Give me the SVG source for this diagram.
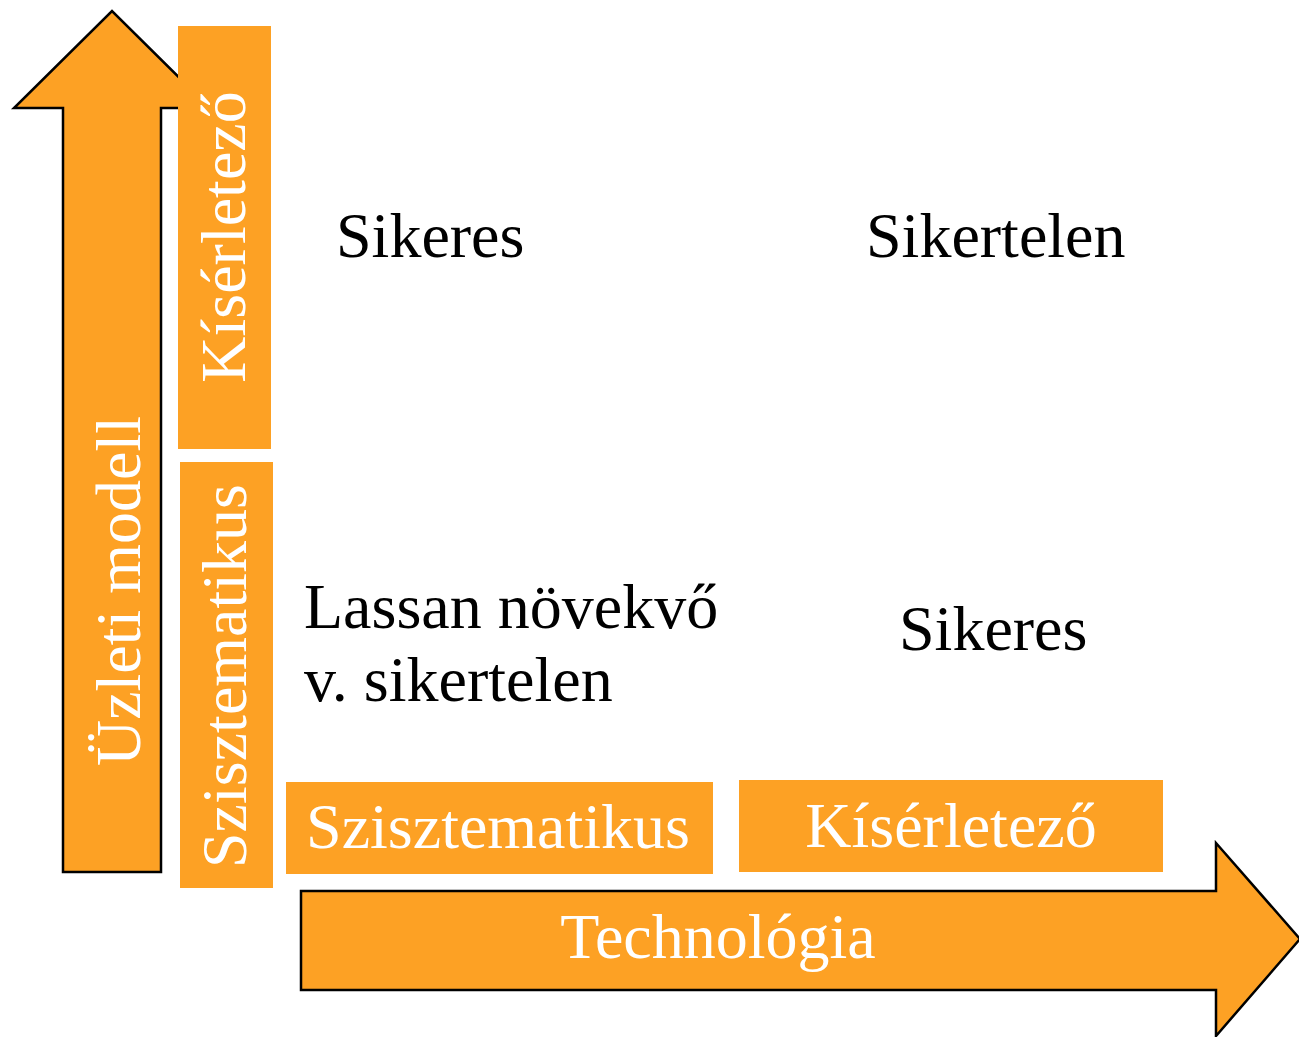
<svg xmlns="http://www.w3.org/2000/svg" width="1299" height="1037" viewBox="0 0 1299 1037">
<style>
.arrow{fill:#FDA124;stroke:#000;stroke-width:2.5;stroke-linejoin:miter}
.box{fill:#FDA124}
.wt{font-family:"Liberation Serif","Times New Roman",serif;font-size:64px;fill:#fff;text-anchor:middle}
.bt{font-family:"Liberation Serif","Times New Roman",serif;font-size:64px;fill:#000}
</style>
<rect width="1299" height="1037" fill="#fff"/>
<g id="axis-uzleti">
<path class="arrow" d="M63,872 L63,108 L14,108 L112,11 L210,108 L161,108 L161,872 Z"/>
<text class="wt" transform="translate(140,591) rotate(-90)">Üzleti modell</text>
</g>
<g id="axis-technologia">
<path class="arrow" d="M301,891 L1216,891 L1216,843 L1300,939 L1216,1036 L1216,990 L301,990 Z"/>
<text class="wt" x="718" y="958">Technológia</text>
</g>
<g id="v-kiserletezo">
<rect class="box" x="178" y="26" width="93" height="423"/>
<text class="wt" transform="translate(245,237) rotate(-90)">Kísérletező</text>
</g>
<g id="v-szisztematikus">
<rect class="box" x="180" y="462" width="93" height="426"/>
<text class="wt" transform="translate(246,676) rotate(-90)">Szisztematikus</text>
</g>
<g id="h-szisztematikus">
<rect class="box" x="286" y="782" width="427" height="92"/>
<text class="wt" x="498" y="848">Szisztematikus</text>
</g>
<g id="h-kiserletezo">
<rect class="box" x="739" y="780" width="424" height="92"/>
<text class="wt" x="951" y="847">Kísérletező</text>
</g>
<g id="q-top-left"><text class="bt" x="336" y="257">Sikeres</text></g>
<g id="q-top-right"><text class="bt" x="866" y="257">Sikertelen</text></g>
<g id="q-bottom-left"><text class="bt" x="304" y="628">Lassan növekvő</text><text class="bt" x="304" y="701">v. sikertelen</text></g>
<g id="q-bottom-right"><text class="bt" x="899" y="650">Sikeres</text></g>
<g id="connectors"></g>
</svg>
